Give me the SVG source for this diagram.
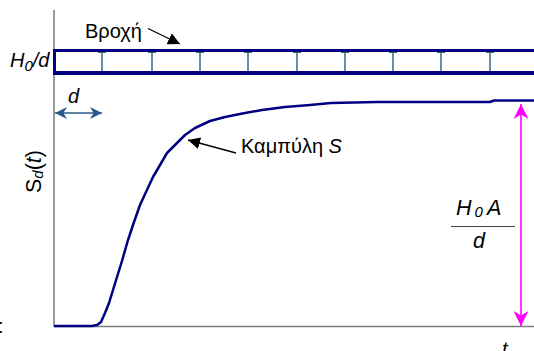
<svg xmlns="http://www.w3.org/2000/svg" width="534" height="351" viewBox="0 0 534 351">
  <style>
    .lbl { font-family: "Liberation Sans", Arial, sans-serif; font-size: 20px; fill: #000; }
    .big { font-size: 21.5px; }
    .it { font-style: italic; }
    .axis { stroke: #808080; stroke-width: 1.6; fill: none; }
    .bar { stroke: #000080; fill: none; }
    .div { stroke: #4a6f92; stroke-width: 1.6; }
    .cap { stroke: #2f6f6a; stroke-width: 1; }
  </style>
  <defs>
    <marker id="blk" viewBox="0 0 10 10" refX="10" refY="5" markerWidth="12" markerHeight="12" markerUnits="userSpaceOnUse" orient="auto">
      <path d="M0,0 L10,5 L0,10 z" fill="#000"/>
    </marker>
    <marker id="blue" viewBox="0 0 10 10" refX="10" refY="5" markerWidth="12" markerHeight="12" markerUnits="userSpaceOnUse" orient="auto-start-reverse">
      <path d="M0,0 L10,5 L0,10 L3,5 z" fill="#2a5a8a"/>
    </marker>
    <marker id="mag" viewBox="0 0 10 10" refX="10" refY="5" markerWidth="15" markerHeight="15" markerUnits="userSpaceOnUse" orient="auto-start-reverse">
      <path d="M0,0 L10,5 L0,10 L3,5 z" fill="#ff00ff"/>
    </marker>
  </defs>

  <!-- axes -->
  <g id="axes">
    <line class="axis" x1="54" y1="10" x2="54" y2="326.5"/>
    <line class="axis" x1="54" y1="326.5" x2="534" y2="326.5"/>
  </g>

  <!-- rainfall bar -->
  <g id="rain">
    <line class="bar" x1="54" y1="50.5" x2="534" y2="50.5" stroke-width="3"/>
    <line class="bar" x1="54" y1="73" x2="534" y2="73" stroke-width="4"/>
    <line class="bar" x1="54.5" y1="49" x2="54.5" y2="75" stroke-width="3"/>
    <g id="dividers">
      <line class="div" x1="102" y1="52" x2="102" y2="71"/>
      <line class="div" x1="152" y1="52" x2="152" y2="71"/>
      <line class="div" x1="200" y1="52" x2="200" y2="71"/>
      <line class="div" x1="248" y1="52" x2="248" y2="71"/>
      <line class="div" x1="297" y1="52" x2="297" y2="71"/>
      <line class="div" x1="345" y1="52" x2="345" y2="71"/>
      <line class="div" x1="393" y1="52" x2="393" y2="71"/>
      <line class="div" x1="441" y1="52" x2="441" y2="71"/>
      <line class="div" x1="490" y1="52" x2="490" y2="71"/>
      <path class="cap" d="M98,52.5h8M148,52.5h8M196,52.5h8M244,52.5h8M293,52.5h8M341,52.5h8M389,52.5h8M437,52.5h8M486,52.5h8"/>
    </g>
  </g>

  <!-- S-curve -->
  <g id="scurve">
    <polyline fill="none" stroke="#000080" stroke-width="2.5" stroke-linejoin="round"
      points="54,326 92,326 97,325 101,322 105,313 109,303 113,290 117,277 122,261 128,240 134,222 140,205 146,192 153,177 160,165 167,153 175,145 185,135 195,128 210,121 225,117 245,113 262,110 285,107 310,105 331,103 377,102 490,102 494,100.5 534,100.5"/>
  </g>

  <!-- connectors -->
  <g id="connectors">
    <line x1="148" y1="28.5" x2="180" y2="44" stroke="#000" stroke-width="1.3" marker-end="url(#blk)"/>
    <line x1="236" y1="153" x2="188" y2="140" stroke="#000" stroke-width="1.3" marker-end="url(#blk)"/>
    <line x1="55" y1="113" x2="102" y2="113" stroke="#2a5a8a" stroke-width="1.6" marker-start="url(#blue)" marker-end="url(#blue)"/>
    <line x1="521" y1="104" x2="521" y2="326" stroke="#ff00ff" stroke-width="1.6" marker-start="url(#mag)" marker-end="url(#mag)"/>
  </g>

  <!-- labels -->
  <g id="labels">
    <text class="lbl" x="85" y="38">Βροχή</text>
    <text class="lbl it" x="10" y="67">H<tspan font-size="15" dy="4">0</tspan><tspan dy="-4">/d</tspan></text>
    <text class="lbl it" x="68" y="103">d</text>
    <text class="lbl" x="241" y="153">Καμπύλη <tspan class="it">S</tspan></text>
    <text class="lbl big" transform="translate(41,193) rotate(-90)">S<tspan class="it" font-size="15" dy="2">d</tspan><tspan dy="-2">(</tspan><tspan class="it">t</tspan>)</text>
    <text class="lbl big it" x="456" y="215">H<tspan font-size="15" dx="3" dy="2">0</tspan><tspan dx="4" dy="-2">A</tspan></text>
    <line x1="451" y1="226.5" x2="515" y2="226.5" stroke="#444" stroke-width="1.2"/>
    <text class="lbl big it" x="473" y="248">d</text>
    <text class="lbl it" x="502" y="356">t</text>
    <text class="lbl" x="-2" y="333">:</text>
  </g>
</svg>
